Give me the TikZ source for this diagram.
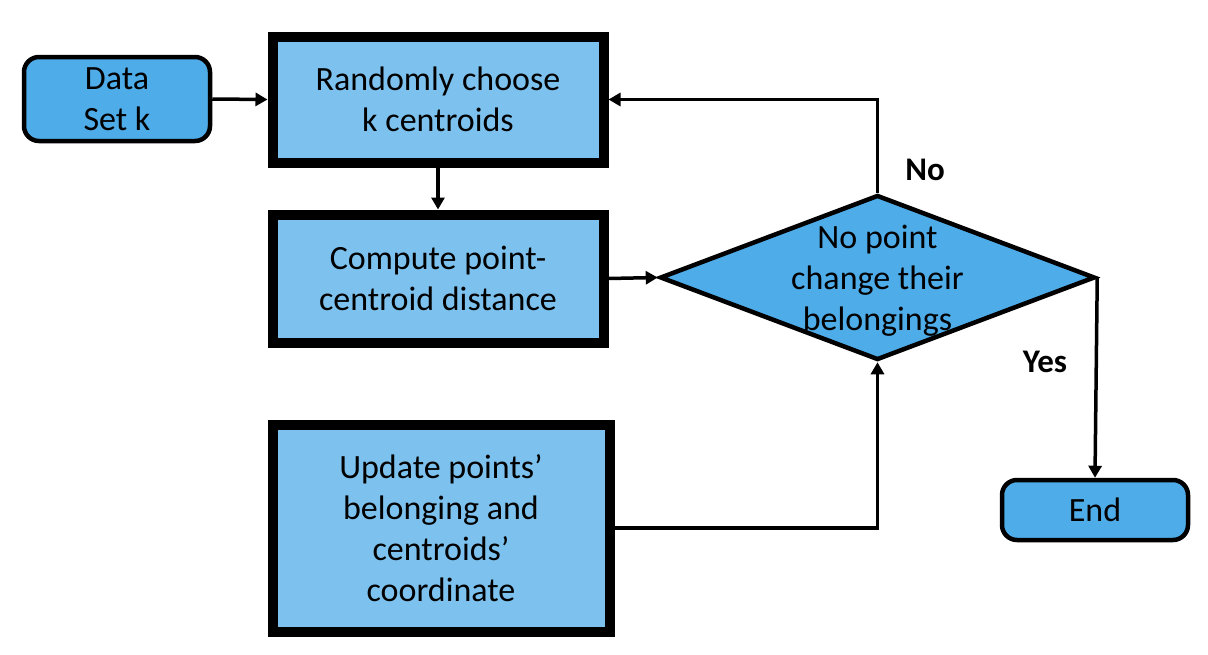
\documentclass[tikz,border=0pt]{standalone}
\usepackage{fontspec}
\setmainfont{Carlito}
\usetikzlibrary{shapes.geometric,arrows.meta}
\definecolor{darkfill}{RGB}{78,172,232}
\definecolor{lightfill}{RGB}{125,194,238}
\tikzset{
  procbox/.style={draw=black,fill=lightfill,line width=10pt,align=center,inner sep=0pt,font=\fontsize{34}{41}\selectfont},
  termbox/.style={draw=black,fill=darkfill,line width=4.5pt,rounded corners=15pt,align=center,inner sep=0pt,font=\fontsize{34}{41}\selectfont},
  decbox/.style={draw=black,fill=darkfill,line width=4.5pt,diamond,inner sep=0pt},
  conn/.style={line width=3.5pt,-{Triangle[length=12pt,width=13pt]}},
  lbl/.style={font=\fontsize{33}{41}\selectfont\bfseries},
  txt/.style={align=center,font=\fontsize{34}{41}\selectfont}
}
\begin{document}
\begin{tikzpicture}[x=1pt,y=-1pt]
\useasboundingbox (0,0) rectangle (1208,654);
\node[termbox,minimum width=186pt,minimum height=84pt] (data) at (117,99) {Data\\Set k};
\node[procbox,minimum width=331pt,minimum height=126pt] (rand) at (438,99.5) {Randomly choose\\k centroids};
\node[procbox,minimum width=331pt,minimum height=128pt] (comp) at (438,278.5) {Compute point-\\centroid distance};
\node[procbox,minimum width=337pt,minimum height=207pt] (upd) at (441,528) {Update points'\\belonging and\\centroids'\\coordinate};
\node[decbox,minimum width=435pt,minimum height=165pt] (dia) at (877.5,277.5) {};
\node[txt] (diatext) at (877.5,281) {No point\\change their\\belongings};
\node[termbox,minimum width=186pt,minimum height=60pt] (end) at (1095,510) {End};
\node[lbl] (no) at (925,170) {No};
\node[lbl] (yes) at (1045,362) {Yes};
\draw[conn] (data.east) -- (rand.west);
\draw[conn] (rand.south) -- (comp.north);
\draw[conn] (comp.east) -- (dia.west);
\draw[conn] (dia.north) |- (rand.east);
\draw[conn] (dia.east) -- (end.north);
\draw[conn] (upd.east) -| (dia.south);
\end{tikzpicture}
\end{document}
